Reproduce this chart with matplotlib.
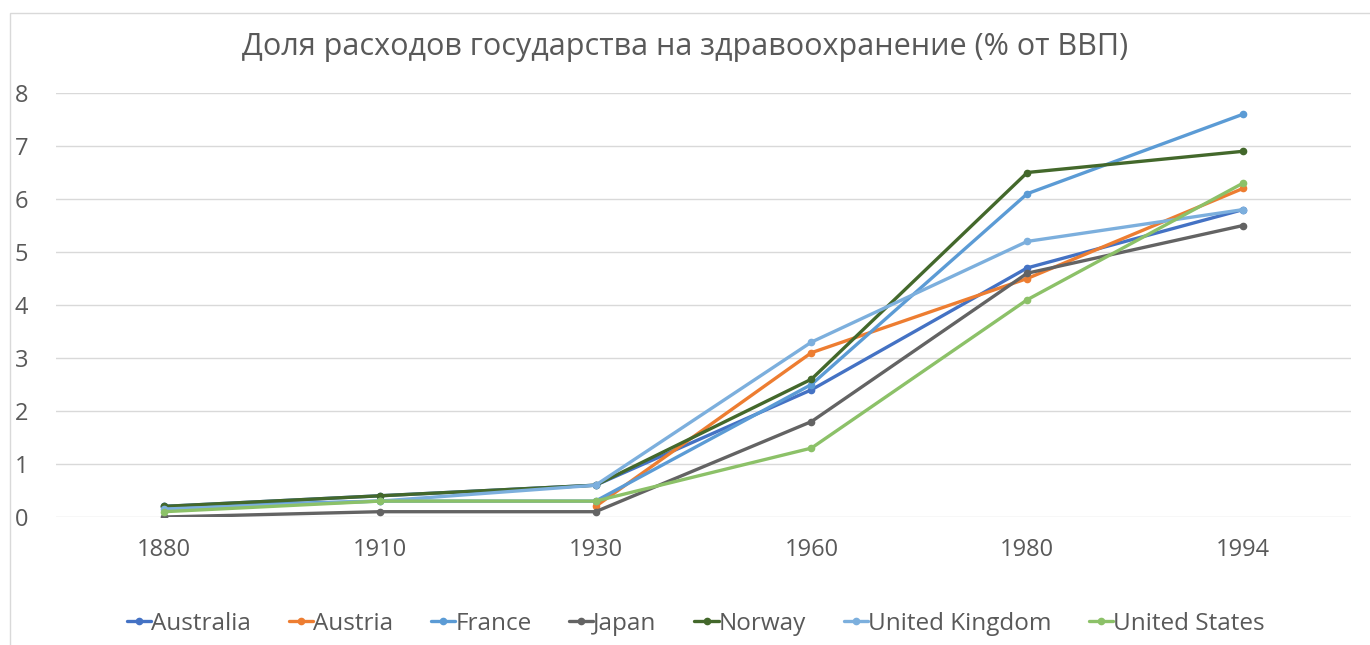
import numpy as np
import matplotlib

matplotlib.use("Agg")
import matplotlib.pyplot as plt
from matplotlib.patches import Rectangle

plt.rcParams["font.family"] = ["Open Sans", "DejaVu Sans"]

TITLE = "Доля расходов государства на здравоохранение (% от ВВП)"
YEARS = ["1880", "1910", "1930", "1960", "1980", "1994"]
nan = np.nan
australia = [0.2, 0.4, 0.6, 2.4, 4.7, 5.8]
austria = [nan, nan, 0.2, 3.1, 4.5, 6.2]
france = [0.2, 0.3, 0.3, 2.5, 6.1, 7.6]
japan = [0.0, 0.1, 0.1, 1.8, 4.6, 5.5]
norway = [0.2, 0.4, 0.6, 2.6, 6.5, 6.9]
uk = [0.15, 0.3, 0.6, 3.3, 5.2, 5.8]
us = [0.1, 0.3, 0.3, 1.3, 4.1, 6.3]

SERIES = [
    ("Australia", australia, "#4472C4"),
    ("Austria", austria, "#ED7D31"),
    ("France", france, "#5B9BD5"),
    ("Japan", japan, "#636363"),
    ("Norway", norway, "#43682B"),
    ("United Kingdom", uk, "#7CAFDD"),
    ("United States", us, "#8CC168"),
]
TXT = "#595959"

fig = plt.figure(figsize=(13.7, 6.45), dpi=100)
W, H = 1370, 645
# chart area border (Excel style)
fig.patches.append(Rectangle((10 / W, -0.1), 1.2, (H - 13) / H + 0.1,
                             transform=fig.transFigure, fill=False,
                             edgecolor="#d9d9d9", linewidth=1))
ax = fig.add_axes([56 / W, 1 - 517 / H, (1351 - 56) / W, (517 - 93) / H])

xs = np.arange(len(YEARS))
for name, vals, color in SERIES:
    ax.plot(xs, vals, color=color, linewidth=2.4, marker="o", markersize=4.5,
            label=name, solid_capstyle="round")

ax.set_xlim(-0.5, len(YEARS) - 0.5)
ax.set_ylim(0, 8)
ax.set_yticks(range(9))
ax.set_xticks(xs)
ax.set_xticklabels(YEARS)
ax.tick_params(axis="both", length=0, labelsize=17, colors=TXT)
ax.tick_params(axis="x", pad=15)
ax.tick_params(axis="y", pad=20)
ax.grid(axis="y", color="#d9d9d9", linewidth=1)
ax.set_axisbelow(True)
for s in ax.spines.values():
    s.set_visible(False)

fig.text(0.5, 1 - 47 / H, TITLE, ha="center", va="center", fontsize=22,
         color=TXT)

fig.legend(loc="center", bbox_to_anchor=(696 / W, 1 - 624 / H), ncol=7,
           frameon=False, fontsize=17.5, labelcolor=TXT, handlelength=1.0,
           handletextpad=0.0, columnspacing=1.55)

fig.savefig("out.png", dpi=100)
